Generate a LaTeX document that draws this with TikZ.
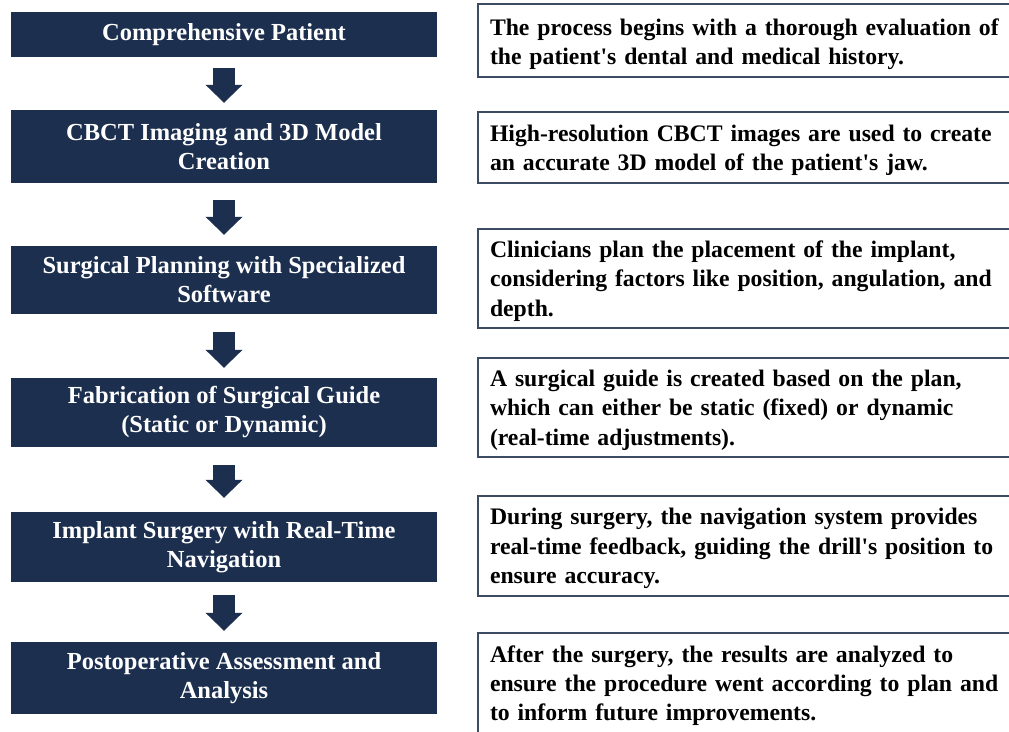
\documentclass[tikz,border=0pt]{standalone}
\usepackage{fontspec}
\setmainfont{Liberation Serif}[Ligatures=TeXOff]
\usetikzlibrary{arrows.meta}
\definecolor{navy}{HTML}{1C2F4F}
\definecolor{framecol}{HTML}{3A4B62}
\begin{document}
\begin{tikzpicture}[x=1pt,y=-1pt,
  stepbox/.style={fill=navy, draw=none, text=white, minimum width=426pt,
    align=center, inner sep=0pt, font=\fontsize{24.5}{29}\selectfont\bfseries},
  descbox/.style={draw=framecol, line width=2pt, fill=white,
    minimum width=547pt, inner sep=0pt},
  desctext/.style={text width=523pt, inner sep=0pt, align=left,
    font=\fontsize{23.7}{29.3}\selectfont\bfseries},
  blockarrow/.style={draw=navy, line width=22pt,
    -{Triangle[width=36pt,length=18pt]}}]
\useasboundingbox (0,0) rectangle (1009,731);
\clip (0,0) rectangle (1009,731);

% workflow steps
\node[stepbox, minimum height=45pt] (s1) at (224,34.5) {Comprehensive Patient};
\node[stepbox, minimum height=73pt] (s2) at (224,146.5) {CBCT Imaging and 3D Model\\Creation};
\node[stepbox, minimum height=68pt] (s3) at (224,280) {Surgical Planning with Specialized\\Software};
\node[stepbox, minimum height=69pt] (s4) at (224,412.5) {Fabrication of Surgical Guide\\(Static or Dynamic)};
\node[stepbox, minimum height=70pt] (s5) at (224,547) {Implant Surgery with Real-Time\\Navigation};
\node[stepbox, minimum height=72pt] (s6) at (224,678) {Postoperative Assessment and\\Analysis};

% block arrows between the steps
\draw[blockarrow, shorten <=11pt, shorten >=7pt] (s1) -- (s2);
\draw[blockarrow, shorten <=17pt, shorten >=11pt] (s2) -- (s3);
\draw[blockarrow, shorten <=18pt, shorten >=10pt] (s3) -- (s4);
\draw[blockarrow, shorten <=18pt, shorten >=14pt] (s4) -- (s5);
\draw[blockarrow, shorten <=13pt, shorten >=11pt] (s5) -- (s6);

% description frames
\node[descbox, minimum height=73pt] (d1) at (751.5,40.5) {};
\node[descbox, minimum height=71pt] (d2) at (751.5,147.5) {};
\node[descbox, minimum height=99pt] (d3) at (751.5,278.5) {};
\node[descbox, minimum height=99pt] (d4) at (751.5,407.5) {};
\node[descbox, minimum height=100pt] (d5) at (751.5,546) {};
\node[descbox, minimum height=100pt] (d6) at (751.5,683) {};

% description texts
\node[desctext] (t1) at ([yshift=-3.5pt]d1.center)
  {The process begins with a thorough evaluation of\\the patient's dental and medical history.};
\node[desctext] (t2) at ([yshift=-3pt]d2.center)
  {High-resolution CBCT images are used to create\\an accurate 3D model of the patient's jaw.};
\node[desctext] (t3) at ([yshift=-2.5pt]d3.center)
  {Clinicians plan the placement of the implant,\\considering factors like position, angulation, and\\depth.};
\node[desctext] (t4) at ([yshift=-2.5pt]d4.center)
  {A surgical guide is created based on the plan,\\which can either be static (fixed) or dynamic\\(real-time adjustments).};
\node[desctext] (t5) at ([yshift=-2.5pt]d5.center)
  {During surgery, the navigation system provides\\real-time feedback, guiding the drill's position to\\ensure accuracy.};
\node[desctext] (t6) at ([yshift=-2.5pt]d6.center)
  {After the surgery, the results are analyzed to\\ensure the procedure went according to plan and\\to inform future improvements.};
\end{tikzpicture}
\end{document}
